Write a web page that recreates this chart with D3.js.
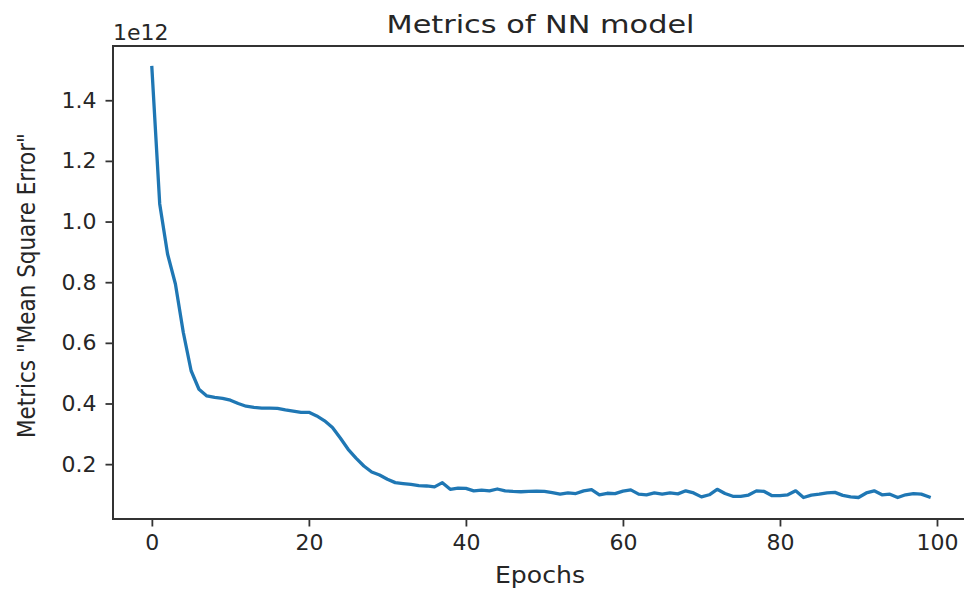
<!DOCTYPE html>
<html>
<head>
<meta charset="utf-8">
<script src="https://cdn.jsdelivr.net/npm/d3@7"></script>
<style>
  body { margin: 0; background: #fff; }
  svg { display: block; font-family: "DejaVu Sans", sans-serif; }
  .axis path, .axis line { stroke: #333; }
  .axis text { fill: #262626; }
</style>
</head>
<body>
<div id="chart"></div>
<script>
// MSE per epoch (values in units of 1e12)
const epochs = d3.range(0, 100);
const mse = [
  1.508, 1.058, 0.893, 0.794, 0.635, 0.508, 0.447, 0.425, 0.420, 0.417,
  0.411, 0.400, 0.391, 0.387, 0.385, 0.385, 0.384, 0.379, 0.375, 0.371,
  0.371, 0.359, 0.343, 0.321, 0.286, 0.249, 0.220, 0.194, 0.174, 0.164,
  0.150, 0.139, 0.136, 0.133, 0.129, 0.128, 0.125, 0.139, 0.117, 0.121,
  0.120, 0.112, 0.114, 0.112, 0.118, 0.112, 0.110, 0.109, 0.110, 0.111,
  0.110, 0.106, 0.101, 0.105, 0.103, 0.112, 0.116, 0.099, 0.104, 0.103,
  0.111, 0.115, 0.101, 0.099, 0.105, 0.101, 0.105, 0.102, 0.112, 0.105,
  0.092, 0.099, 0.117, 0.103, 0.094, 0.094, 0.098, 0.112, 0.110, 0.096,
  0.096, 0.099, 0.112, 0.090, 0.098, 0.101, 0.105, 0.107, 0.097, 0.092,
  0.090, 0.105, 0.112, 0.099, 0.101, 0.090, 0.099, 0.103, 0.101, 0.092
];
const xTicks = [0, 20, 40, 60, 80, 100];
const yTicks = [0.2, 0.4, 0.6, 0.8, 1.0, 1.2, 1.4];

const width = 964;
const height = 592;
const margin = { top: 46, right: -4, bottom: 73, left: 113 };

const svg = d3.select("#chart").append("svg")
  .attr("width", width)
  .attr("height", height);

// matplotlib-style 5% margins around the data
const xPad = (d3.max(epochs) - d3.min(epochs)) * 0.05;
const yMin = d3.min(mse), yMax = d3.max(mse);
const yPad = (yMax - yMin) * 0.05;

const x = d3.scaleLinear()
  .domain([d3.min(epochs) - xPad, d3.max(epochs) + xPad])
  .range([margin.left, width - margin.right]);

const y = d3.scaleLinear()
  .domain([yMin - yPad, yMax + yPad])
  .range([height - margin.bottom, margin.top]);

// line
const line = d3.line()
  .x((d, i) => x(epochs[i]))
  .y(d => y(d));

svg.append("path")
  .datum(mse)
  .attr("fill", "none")
  .attr("stroke", "#1f77b4")
  .attr("stroke-width", 3.3)
  .attr("stroke-linejoin", "round")
  .attr("stroke-linecap", "square")
  .attr("d", line);

// axes
const xAxis = svg.append("g")
  .attr("class", "axis")
  .attr("transform", `translate(0,${height - margin.bottom})`)
  .call(d3.axisBottom(x).tickValues(xTicks).tickFormat(d3.format("d")).tickSize(7.5).tickPadding(8).tickSizeOuter(0));

const yAxis = svg.append("g")
  .attr("class", "axis")
  .attr("transform", `translate(${margin.left},0)`)
  .call(d3.axisLeft(y).tickValues(yTicks).tickFormat(d3.format(".1f")).tickSize(7.5).tickPadding(9).tickSizeOuter(0));

svg.selectAll(".axis .domain").remove();
svg.selectAll(".axis line").attr("stroke-width", 1.8);
svg.selectAll(".axis text")
  .attr("font-size", 22)
  .attr("font-family", "DejaVu Sans");

// frame (spines)
svg.append("rect")
  .attr("x", margin.left)
  .attr("y", margin.top)
  .attr("width", width - margin.right - margin.left)
  .attr("height", height - margin.bottom - margin.top)
  .attr("fill", "none")
  .attr("stroke", "#333")
  .attr("stroke-width", 2);

// offset label
svg.append("text")
  .attr("x", margin.left)
  .attr("y", 40)
  .attr("font-size", 22)
  .attr("fill", "#262626")
  .text("1e12");

// title
svg.append("text")
  .attr("x", (margin.left + width - margin.right) / 2)
  .attr("y", 33)
  .attr("text-anchor", "middle")
  .attr("font-size", 25)
  .attr("fill", "#262626")
  .attr("textLength", 308)
  .attr("lengthAdjust", "spacingAndGlyphs")
  .text("Metrics of NN model");

// x label
svg.append("text")
  .attr("x", 540)
  .attr("y", 583)
  .attr("text-anchor", "middle")
  .attr("font-size", 23)
  .attr("fill", "#262626")
  .attr("textLength", 90)
  .attr("lengthAdjust", "spacingAndGlyphs")
  .text("Epochs");

// y label
svg.append("text")
  .attr("transform", `translate(35,${(margin.top + height - margin.bottom) / 2 + 3}) rotate(-90)`)
  .attr("text-anchor", "middle")
  .attr("font-size", 24)
  .attr("fill", "#262626")
  .attr("textLength", 305)
  .attr("lengthAdjust", "spacingAndGlyphs")
  .text("Metrics \"Mean Square Error\"");
</script>
</body>
</html>
